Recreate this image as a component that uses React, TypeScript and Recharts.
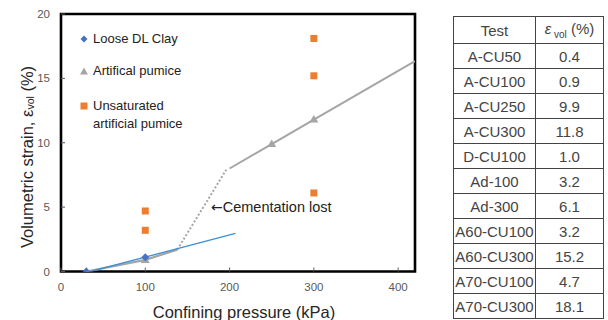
import React from "react";
import {
  ComposedChart,
  Line,
  Scatter,
  XAxis,
  YAxis,
  ReferenceArea,
  ReferenceDot,
  Legend,
} from "recharts";

// ---- data ----
const clayX = [30, 100];
const clayY = [0, 1.1];
const pumiceX = [30, 100, 250, 300];
const pumiceY = [0, 0.9, 9.9, 11.8];
const unsatX = [100, 100, 300, 300, 300];
const unsatY = [4.7, 3.2, 18.1, 15.2, 6.1];

const clayTrendX = [35, 207];
const clayTrendY = [0, 2.96];
const pumiceLowX = [30, 100, 138];
const pumiceLowY = [0, 0.9, 1.7];
const pumiceDotX = [138, 196];
const pumiceDotY = [1.7, 7.9];
const pumiceHighX = [200, 250, 300, 420];
const pumiceHighY = [8.0, 9.9, 11.8, 16.35];

const xTicks = [0, 100, 200, 300, 400];
const yTicks = [0, 5, 10, 15, 20];

const seriesNames = ["Loose DL Clay", "Artifical pumice", "Unsaturated artificial pumice"];
const annotationText = "Cementation lost";

const tableTests = [
  "A-CU50",
  "A-CU100",
  "A-CU250",
  "A-CU300",
  "D-CU100",
  "Ad-100",
  "Ad-300",
  "A60-CU100",
  "A60-CU300",
  "A70-CU100",
  "A70-CU300",
];
const tableValues = ["0.4", "0.9", "9.9", "11.8", "1.0", "3.2", "6.1", "3.2", "15.2", "4.7", "18.1"];

const zip = (xs: number[], ys: number[]) => xs.map((x, i) => ({ x, y: ys[i] }));

const BLUE = "#4472C4";
const GRAY = "#A5A5A5";
const ORANGE = "#ED7D31";
const TREND = "#3A8FD6";
const FONT = "'Liberation Sans', Arial, sans-serif";

const Diamond = (p: any) => (
  <path d={`M${p.cx} ${p.cy - 4} L${p.cx + 4} ${p.cy} L${p.cx} ${p.cy + 4} L${p.cx - 4} ${p.cy} Z`} fill={BLUE} />
);
const Triangle = (p: any) => (
  <path d={`M${p.cx} ${p.cy - 4.5} L${p.cx + 4.5} ${p.cy + 3} L${p.cx - 4.5} ${p.cy + 3} Z`} fill={GRAY} />
);
const Square = (p: any) => <rect x={p.cx - 3.5} y={p.cy - 3.5} width={7} height={7} fill={ORANGE} />;

const LegendBox = () => (
  <div style={{ fontFamily: FONT, fontSize: 13, color: "#222", lineHeight: "18px" }}>
    <div style={{ display: "flex", alignItems: "center", height: 18 }}>
      <svg width={12} height={12} style={{ marginRight: 3 }}>
        <path d="M6 2.5 L9.5 6 L6 9.5 L2.5 6 Z" fill={BLUE} />
      </svg>
      {seriesNames[0]}
    </div>
    <div style={{ display: "flex", alignItems: "center", height: 18, marginTop: 14 }}>
      <svg width={12} height={12} style={{ marginRight: 3 }}>
        <path d="M6 2.5 L10 9.5 L2 9.5 Z" fill={GRAY} />
      </svg>
      {seriesNames[1]}
    </div>
    <div style={{ display: "flex", alignItems: "flex-start", marginTop: 17 }}>
      <svg width={12} height={12} style={{ marginRight: 3, marginTop: 3 }}>
        <rect x={2.5} y={2.5} width={7} height={7} fill={ORANGE} />
      </svg>
      <div style={{ width: 110 }}>
        Unsaturated
        <br />
        artificial pumice
      </div>
    </div>
  </div>
);

const YTitle = () => (
  <text
    transform="translate(27,157) rotate(-90)"
    textAnchor="middle"
    dominantBaseline="central"
    fontSize={16.5}
    fill="#262626"
    fontFamily={FONT}
  >
    Volumetric strain, ε
    <tspan dy={3} fontSize={10.5}>
      vol
    </tspan>
    <tspan dy={-3}>{"  (%)"}</tspan>
  </text>
);

const XTitle = () => (
  <text x={244} y={312} textAnchor="middle" dominantBaseline="central" fontSize={16.5} fill="#262626" fontFamily={FONT}>
    Confining pressure (kPa)
  </text>
);

const Annotation = (props: any) => {
  const vb = props.viewBox || {};
  const x = vb.x ?? 0;
  const y = vb.y ?? 0;
  return (
    <text x={x} y={y} dominantBaseline="central" fontSize={14.5} fill="#222" fontFamily={FONT}>
      <tspan fontFamily="'DejaVu Sans', sans-serif" fontSize={14}>
        ←
      </tspan>
      {annotationText}
    </text>
  );
};

const cell: React.CSSProperties = {
  border: "1px solid #444",
  height: 24,
  padding: 0,
  textAlign: "center",
  verticalAlign: "middle",
  whiteSpace: "nowrap",
};

export default function App() {
  return (
    <div style={{ position: "absolute", left: 0, top: 0, width: 608, height: 320, background: "#fff" }}>
      <ComposedChart width={430} height={320} margin={{ top: 14, right: 15, bottom: 0, left: 0 }}>
        <XAxis
          dataKey="x"
          type="number"
          domain={[0, 420]}
          ticks={xTicks}
          allowDataOverflow
          axisLine={false}
          tickSize={-4}
          tickMargin={15}
          tickLine={{ stroke: "#595959" }}
          tick={{ fill: "#595959", fontSize: 11.5, fontFamily: FONT }}
          height={48.5}
          label={{ content: () => <XTitle /> }}
        />
        <YAxis
          dataKey="y"
          type="number"
          domain={[0, 20]}
          ticks={yTicks}
          allowDataOverflow
          axisLine={false}
          tickSize={-4}
          tickMargin={15}
          tickLine={{ stroke: "#595959" }}
          tick={{ fill: "#595959", fontSize: 11.5, fontFamily: FONT }}
          width={61}
          label={{ content: () => <YTitle /> }}
        />
        <ReferenceArea x1={0} x2={420} y1={0} y2={20} fill="none" stroke="#000" strokeWidth={2.6} ifOverflow="visible" />
        <Line
          data={zip(pumiceLowX, pumiceLowY)}
          dataKey="y"
          stroke={GRAY}
          strokeWidth={2.2}
          dot={false}
          isAnimationActive={false}
          legendType="none"
        />
        <Line
          data={zip(pumiceDotX, pumiceDotY)}
          dataKey="y"
          stroke={GRAY}
          strokeWidth={2}
          strokeDasharray="2 2"
          dot={false}
          isAnimationActive={false}
          legendType="none"
        />
        <Line
          data={zip(pumiceHighX, pumiceHighY)}
          dataKey="y"
          stroke={GRAY}
          strokeWidth={2}
          dot={false}
          isAnimationActive={false}
          legendType="none"
        />
        <Line
          data={zip(clayTrendX, clayTrendY)}
          dataKey="y"
          stroke={TREND}
          strokeWidth={1.3}
          dot={false}
          isAnimationActive={false}
          legendType="none"
        />
        <Scatter name={seriesNames[1]} data={zip(pumiceX, pumiceY)} fill={GRAY} shape={Triangle} isAnimationActive={false} />
        <Scatter name={seriesNames[0]} data={zip(clayX, clayY)} fill={BLUE} shape={Diamond} isAnimationActive={false} />
        <Scatter name={seriesNames[2]} data={zip(unsatX, unsatY)} fill={ORANGE} shape={Square} isAnimationActive={false} />
        <ReferenceDot x={178} y={5} r={0} ifOverflow="visible" label={{ content: (p: any) => <Annotation {...p} /> }} />
        <Legend
          layout="vertical"
          align="center"
          verticalAlign="middle"
          content={() => <LegendBox />}
          wrapperStyle={{ position: "absolute", left: 78, top: 30, width: 160, height: 110 }}
        />
      </ComposedChart>
      <table
        style={{
          position: "absolute",
          left: 453,
          top: 16,
          borderCollapse: "collapse",
          fontFamily: FONT,
          fontSize: 15,
          color: "#444",
          tableLayout: "fixed",
        }}
      >
        <colgroup>
          <col style={{ width: 82 }} />
          <col style={{ width: 68 }} />
        </colgroup>
        <tbody>
          <tr>
            <td style={{ ...cell, height: 26 }}>Test</td>
            <td style={{ ...cell, height: 26 }}>
              <i>ε</i>
              <sub style={{ fontSize: 10 }}> vol</sub>
              {"  (%)"}
            </td>
          </tr>
          {tableTests.map((t, i) => (
            <tr key={t}>
              <td style={cell}>{t}</td>
              <td style={cell}>{tableValues[i]}</td>
            </tr>
          ))}
        </tbody>
      </table>
    </div>
  );
}
